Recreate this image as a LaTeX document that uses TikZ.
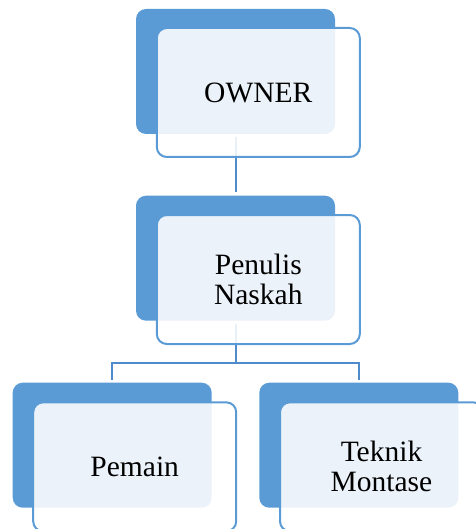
\documentclass[tikz,border=0pt]{standalone}
\usepackage{fontspec}
\setmainfont{Liberation Serif}
\definecolor{accblue}{HTML}{5B9BD5}
\definecolor{lineblue}{HTML}{4F8CCB}
\begin{document}
\begin{tikzpicture}[x=1pt,y=-1pt,
  backbox/.style={draw=none,fill=accblue,rounded corners=10pt,minimum width=199pt,minimum height=125pt,inner sep=0pt},
  frontbox/.style={draw=accblue,line width=2pt,fill=white,fill opacity=0.88,text opacity=1,rounded corners=10pt,minimum width=203pt,minimum height=129pt,inner sep=0pt,align=center,font=\fontsize{29.5}{30}\selectfont},
  conn/.style={draw=lineblue,line width=2pt,shorten <=3pt,shorten >=3pt}]
\useasboundingbox (0,0) rectangle (475,529);
\node[backbox] (b1) at (235.5,71.5) {};
\node[backbox] (b2) at (235.5,258.2) {};
\node[backbox] (b3) at (112.2,445.2) {};
\node[backbox] (b4) at (358.8,445.2) {};
\coordinate (split) at (235.5,362.7);
\draw[conn] (b1.south) -- (b2.north);
\draw[draw=lineblue,line width=2pt,shorten <=3pt] (b2.south) -- (split);
\draw[conn,shorten <=0pt] (split) -| (b3.north);
\draw[conn,shorten <=0pt] (split) -| (b4.north);
\node[frontbox] (f1) at (258.3,92.5) {OWNER};
\node[frontbox] (f2) at (258.3,279.5) {Penulis\\Naskah};
\node[frontbox] (f3) at (134.7,466.8) {Pemain};
\node[frontbox] (f4) at (381.5,466.8) {Teknik\\Montase};
\end{tikzpicture}
\end{document}
